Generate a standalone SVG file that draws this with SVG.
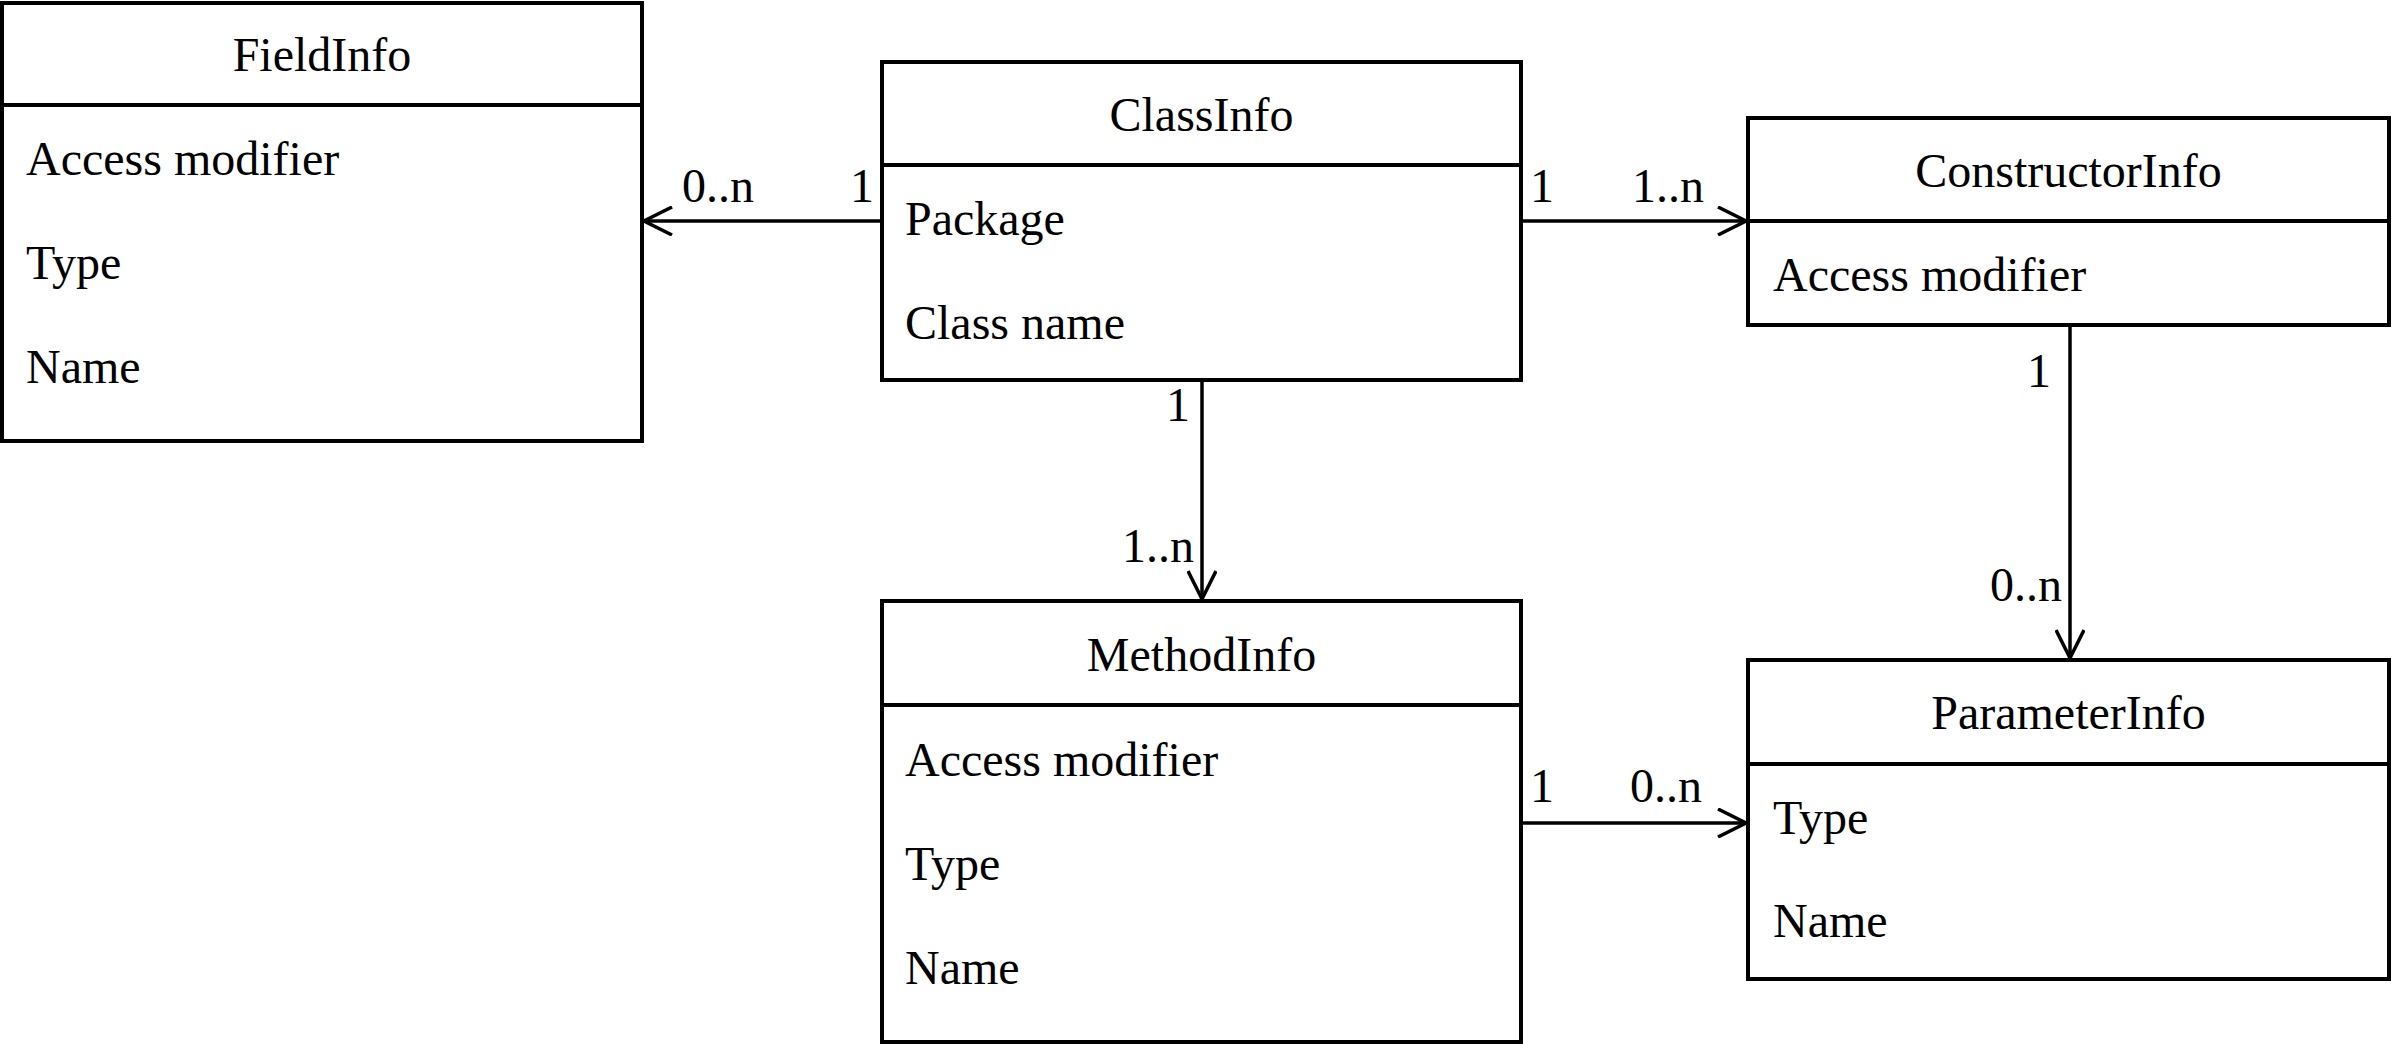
<svg xmlns="http://www.w3.org/2000/svg" width="2392" height="1044" viewBox="0 0 2392 1044">
<defs>
<style>
.box{fill:#fff;stroke:#000;stroke-width:4}
.div{stroke:#000;stroke-width:4}
.t{font-family:"Liberation Serif","Times New Roman",serif;font-size:48px;fill:#000}
.c{text-anchor:middle}
.e{text-anchor:end}
.ln{fill:none;stroke:#000;stroke-width:3.5}
</style>
<marker id="open" viewBox="0 0 30 30" refX="29" refY="15" markerWidth="30" markerHeight="30" markerUnits="userSpaceOnUse" orient="auto">
<path d="M1,1 L29,15 L1,29" fill="none" stroke="#000" stroke-width="3.5"/>
</marker>
</defs>
<rect width="2392" height="1044" fill="#fff"/>
<g id="FieldInfo">
<rect class="box" x="2" y="3" width="640" height="438"/>
<line class="div" x1="2" y1="105" x2="642" y2="105"/>
<text class="t c" x="322" y="71">FieldInfo</text>
<text class="t" x="26" y="175">Access modifier</text>
<text class="t" x="26" y="279">Type</text>
<text class="t" x="26" y="383">Name</text>
</g>
<g id="ClassInfo">
<rect class="box" x="882" y="62" width="639" height="318"/>
<line class="div" x1="882" y1="165" x2="1521" y2="165"/>
<text class="t c" x="1201.5" y="131">ClassInfo</text>
<text class="t" x="905" y="235">Package</text>
<text class="t" x="905" y="339">Class name</text>
</g>
<g id="ConstructorInfo">
<rect class="box" x="1748" y="118" width="641" height="207"/>
<line class="div" x1="1748" y1="221" x2="2389" y2="221"/>
<text class="t c" x="2068.5" y="187">ConstructorInfo</text>
<text class="t" x="1773" y="291">Access modifier</text>
</g>
<g id="MethodInfo">
<rect class="box" x="882" y="601" width="639" height="441"/>
<line class="div" x1="882" y1="705" x2="1521" y2="705"/>
<text class="t c" x="1201.5" y="671">MethodInfo</text>
<text class="t" x="905" y="776">Access modifier</text>
<text class="t" x="905" y="880">Type</text>
<text class="t" x="905" y="984">Name</text>
</g>
<g id="ParameterInfo">
<rect class="box" x="1748" y="660" width="641" height="319"/>
<line class="div" x1="1748" y1="764" x2="2389" y2="764"/>
<text class="t c" x="2068.5" y="729">ParameterInfo</text>
<text class="t" x="1773" y="834">Type</text>
<text class="t" x="1773" y="937">Name</text>
</g>
<g id="connectors">
<line class="ln" x1="882" y1="221" x2="644" y2="221" marker-end="url(#open)"/>
<text class="t" x="682" y="202">0..n</text>
<text class="t" x="850" y="202">1</text>
<line class="ln" x1="1521" y1="221" x2="1746" y2="221" marker-end="url(#open)"/>
<text class="t" x="1530" y="202">1</text>
<text class="t" x="1632" y="202">1..n</text>
<line class="ln" x1="1202" y1="380" x2="1202" y2="599" marker-end="url(#open)"/>
<text class="t e" x="1190" y="421">1</text>
<text class="t e" x="1194" y="562">1..n</text>
<line class="ln" x1="2070" y1="325" x2="2070" y2="658" marker-end="url(#open)"/>
<text class="t e" x="2051" y="387">1</text>
<text class="t e" x="2062" y="601">0..n</text>
<line class="ln" x1="1521" y1="823" x2="1746" y2="823" marker-end="url(#open)"/>
<text class="t" x="1530" y="802">1</text>
<text class="t" x="1630" y="802">0..n</text>
</g>
</svg>
